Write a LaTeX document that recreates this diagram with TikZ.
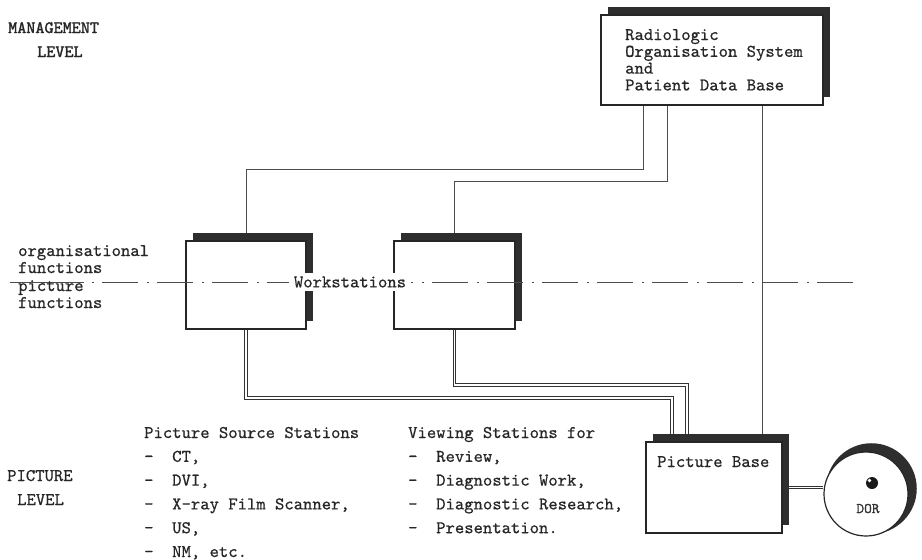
\documentclass[tikz,border=0pt]{standalone}
\usepackage{fontspec}
\newfontfamily\cour{lmmono10-regular.otf}[FakeBold=0.6]
\newfontfamily\courb{lmmono10-regular.otf}[FakeBold=1.6]
\usetikzlibrary{calc,shadows,backgrounds}
\begin{document}
\begin{tikzpicture}[x=1pt,y=-1pt,
  lbl/.style={font=\cour\fontsize{17.8}{16}\selectfont, inner sep=0pt, anchor=base west, text=black!85},
  boldlbl/.style={lbl, font=\courb\fontsize{17.3}{16}\selectfont},
  box/.style={draw=black!85, line width=1.3pt, fill=white, inner sep=0pt,
    general shadow={fill=black!82, shadow xshift=7pt, shadow yshift=8pt}},
  wire/.style={draw=black!70, line width=1pt},
  dwire/.style={draw=black!80, line width=0.9pt, double=white, double distance=1.8pt},
  axis/.style={draw=black!70, line width=1pt},
]
\useasboundingbox (0,0) rectangle (922,560);

% boxes
\node[box, minimum width=222pt, minimum height=90pt] (R) at (712,60) {};
\node[box, minimum width=120pt, minimum height=88pt] (W1) at (246,285) {};
\node[box, minimum width=121pt, minimum height=88pt] (W2) at (454.5,285) {};
\node[box, minimum width=136pt, minimum height=91pt] (P) at (714,487.5) {};
\node[circle, draw=black!85, line width=1.2pt, fill=white, minimum size=84pt, inner sep=0pt,
  general shadow={fill=black!82, shadow xshift=5pt, shadow yshift=5pt, shadow scale=1.08}] (D) at (866,494) {};
\fill[black!90] (872,483) circle (6);
\fill[white] (869.5,480.5) circle (1.8);

% connectors
\begin{scope}[on background layer]
  \coordinate (h1) at (0,169);
  \coordinate (h2) at (0,181);
  \coordinate (v1) at (672,398);
  \coordinate (v2) at (687,385);
  \draw[wire] ($(R.south west)+(43,0)$) |- (W1.north |- h1) -- (W1.north);
  \draw[wire] ($(R.south west)+(67,0)$) |- (W2.north |- h2) -- (W2.north);
  \draw[wire] ($(R.south west)+(162,0)$) coordinate (r3) -- (r3 |- P.north);
  \draw[dwire] (W1.south) |- (v1) -- (v1 |- P.north);
  \draw[dwire] (W2.south) |- (v2) -- (v2 |- P.north);
  \draw[dwire] (P.east) -- (P.east -| D.west);
\end{scope}

% dash-dot level line
\coordinate (a0) at (10,282);
\coordinate (a1) at (84,282);
\coordinate (a2) at (860,282);
\draw[axis] (a0) -- (a1);
\draw[axis, dash pattern=on 36pt off 9pt on 1.5pt off 8.5pt, dash phase=37pt] (a1) -- (a2);
\node[lbl, anchor=center, fill=white, inner xsep=5pt, inner ysep=3pt] (ws) at (350,282) {Workstations};

% level labels
\node[boldlbl] (mg1) at (8,33) {MANAGEMENT};
\node[boldlbl] (mg2) at (37,57) {LEVEL};
\node[lbl] (pl1) at (7,481) {PICTURE};
\node[lbl] (pl2) at (17,505) {LEVEL};

\node[lbl] (of1) at (18,256) {organisational};
\node[lbl] (of2) at (18,273) {functions};
\node[lbl] (pf1) at (18,291) {picture};
\node[lbl] (pf2) at (18,308) {functions};

% box texts
\foreach \t [count=\i from 0] in {Radiologic, Organisation System, and, Patient Data Base}
  \node[lbl] (rt\i) at (625,40+16.8*\i) {\t};
\node[lbl] (pbt) at (657,467) {Picture Base};
\node[font=\cour\fontsize{14.7}{15}\selectfont, inner sep=0pt, anchor=base, text=black!80] (dor) at (868,513) {DOR};

% lists
\foreach \t [count=\i from 0] in {Picture Source Stations, {-~~CT,}, {-~~DVI,}, {-~~X-ray Film Scanner,}, {-~~US,}, {-~~NM, etc.}}
  \node[lbl] (ps\i) at (144,438+23.8*\i) {\t};
\foreach \t [count=\i from 0] in {Viewing Stations for, {-~~Review,}, {-~~Diagnostic Work,}, {-~~Diagnostic Research,}, {-~~Presentation.}}
  \node[lbl] (vs\i) at (408,438+23.8*\i) {\t};
\end{tikzpicture}
\end{document}
